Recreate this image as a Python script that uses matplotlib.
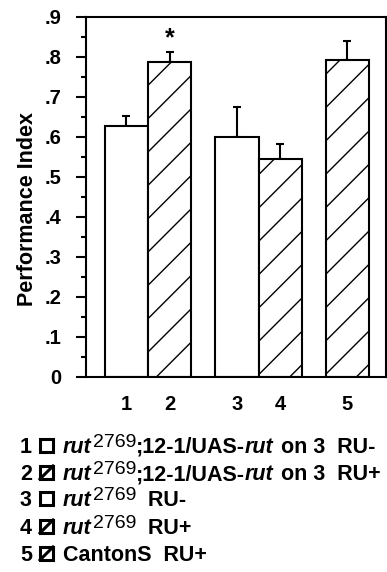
import matplotlib
matplotlib.use("Agg")
import matplotlib.pyplot as plt
from matplotlib.patches import Rectangle
from matplotlib.lines import Line2D

plt.rcParams['font.family'] = ['Liberation Sans', 'DejaVu Sans']
plt.rcParams['font.weight'] = 'bold'
plt.rcParams['hatch.linewidth'] = 1.0

# Data
categories = ["1", "2", "3", "4", "5"]
values = [0.628, 0.787, 0.601, 0.544, 0.793]
errors = [0.025, 0.025, 0.075, 0.038, 0.047]
hatched = [False, True, False, True, True]
significance = ["", "*", "", "", ""]
yticks = [0, 0.1, 0.2, 0.3, 0.4, 0.5, 0.6, 0.7, 0.8, 0.9]
ytick_labels = ["0", ".1", ".2", ".3", ".4", ".5", ".6", ".7", ".8", ".9"]
# legend entries as (text, style) pieces: 'n' normal bold, 'i' italic, 's' superscript
legend_pieces = [
    [("rut", "i"), ("2769", "s"), (";12-1/UAS-", "n"), ("rut", "i"), (" on 3  RU-", "n")],
    [("rut", "i"), ("2769", "s"), (";12-1/UAS-", "n"), ("rut", "i"), (" on 3  RU+", "n")],
    [("rut", "i"), ("2769", "s"), ("  RU-", "n")],
    [("rut", "i"), ("2769", "s"), ("  RU+", "n")],
    [("CantonS  RU+", "n")],
]

positions = [1, 2, 3.55, 4.55, 6.1]

W, H = 387, 572
fig = plt.figure(figsize=(W/100, H/100), dpi=100)
ax = fig.add_axes([86/W, 195/H, 300/W, 360/H])

for x, v, e, h in zip(positions, values, errors, hatched):
    ax.bar(x, v, width=1.0, color='white', edgecolor='black', linewidth=1.5,
           hatch='/' if h else None, zorder=2)
    ax.errorbar(x, v, yerr=[[0], [e]], fmt='none', ecolor='black',
                elinewidth=1.5, capsize=3, capthick=1.5, zorder=1)

for x, v, e, s in zip(positions, values, errors, significance):
    if s:
        ax.text(x, v + e + 0.005, s, ha='center', va='bottom', fontsize=18,
                fontweight='bold')

ax.set_xlim(0.065, 0.065 + 300/43.3)
ax.set_ylim(0, 0.9)
ax.set_yticks(yticks)
ax.set_yticklabels(ytick_labels, fontsize=14.5, fontweight='bold')
ax.set_yticks([0.05 + 0.1*i for i in range(9)], minor=True)
ax.tick_params(axis='y', which='major', direction='out', length=7, width=1.5, pad=11)
ax.tick_params(axis='y', which='minor', direction='out', length=3.5, width=1.5)
ax.set_xticks(positions)
ax.set_xticklabels(categories, fontsize=14.5, fontweight='bold')
ax.tick_params(axis='x', length=0, pad=13)
for sp in ax.spines.values():
    sp.set_linewidth(1.5)
ax.set_ylabel("Performance Index", fontsize=15.5, fontweight='bold')
ax.yaxis.set_label_coords(-0.16, 0.467)

# Legend below
renderer = fig.canvas.get_renderer()
ys = [453, 480, 506, 534, 561]
FS = 15.5
for i, (pieces, h, y) in enumerate(zip(legend_pieces, hatched, ys)):
    fig.text(20/W, 1 - y/H, str(i + 1), fontsize=FS, fontweight='bold',
             va='baseline', ha='left', transform=fig.transFigure)
    bx, by, bs = 40, y - 14, 13
    rect = Rectangle((bx/W, 1 - (by + bs)/H), bs/W, bs/H, transform=fig.transFigure,
                     facecolor='white', edgecolor='black', linewidth=2.2)
    fig.patches.append(rect)
    if h:
        fig.lines.append(Line2D([bx/W, (bx + bs)/W], [1 - (by + bs)/H, 1 - by/H],
                                transform=fig.transFigure, color='black', linewidth=2.2))
    xpx = 63
    for txt, st in pieces:
        if st == "i":
            t = fig.text(xpx/W, 1 - y/H, txt, fontsize=FS, fontstyle='italic',
                         fontweight='bold', va='baseline', ha='left')
        elif st == "s":
            t = fig.text(xpx/W, 1 - (y - 6)/H, txt, fontsize=14,
                         fontweight='normal', va='baseline', ha='left')
        else:
            t = fig.text(xpx/W, 1 - y/H, txt, fontsize=FS, fontweight='bold',
                         va='baseline', ha='left')
        bb = t.get_window_extent(renderer=renderer)
        xpx += bb.width + (1 if st == "i" else 0)

fig.savefig("out.png", dpi=100)
